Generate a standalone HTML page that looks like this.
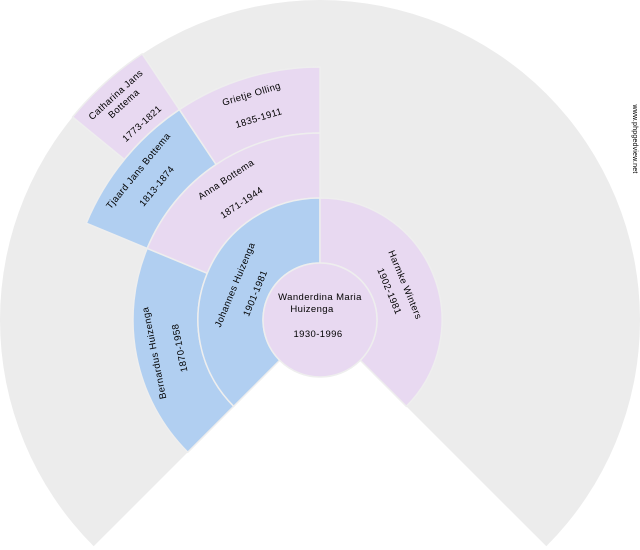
<!DOCTYPE html>
<html><head><meta charset="utf-8"><style>
html,body{margin:0;padding:0;background:#fff;}
svg{display:block;}
text{font-family:"Liberation Sans","DejaVu Sans",sans-serif;font-size:9.5px;fill:#000;text-anchor:middle;letter-spacing:0.4px;}
</style></head><body>
<svg width="640" height="550" viewBox="0 0 640 550" xmlns="http://www.w3.org/2000/svg">
<path d="M320,320 L93.7,546.3 A320,320 0 1 1 546.3,546.3 Z" fill="#ececec"/>
<g stroke="#eeeeee" stroke-width="1.5">
<path d="M72.6,117 A320,320 0 0 1 142.2,53.9 L179.4,109.6 A253,253 0 0 0 124.4,159.5 Z" fill="#e8d9f1"/>
<path d="M86.3,223.2 A253,253 0 0 1 179.4,109.6 L216.1,164.5 A187,187 0 0 0 147.2,248.4 Z" fill="#b1cff1"/>
<path d="M179.4,109.6 A253,253 0 0 1 320,67 L320,133 A187,187 0 0 0 216.1,164.5 Z" fill="#e8d9f1"/>
<path d="M187.8,452.2 A187,187 0 0 1 147.2,248.4 L207.3,273.3 A122,122 0 0 0 233.7,406.3 Z" fill="#b1cff1"/>
<path d="M147.2,248.4 A187,187 0 0 1 320,133 L320,198 A122,122 0 0 0 207.3,273.3 Z" fill="#e8d9f1"/>
<path d="M233.7,406.3 A122,122 0 0 1 320,198 L320,263 A57,57 0 0 0 279.7,360.3 Z" fill="#b1cff1"/>
<path d="M320,198 A122,122 0 0 1 406.3,406.3 L360.3,360.3 A57,57 0 0 0 320,263 Z" fill="#e8d9f1"/>
<circle cx="320" cy="320" r="57" fill="#e8d9f1"/>
</g>
<text x="320" y="300">Wanderdina Maria</text>
<text x="312" y="312">Huizenga</text>
<text x="318" y="337">1930-1996</text>
<g transform="translate(320,320) rotate(-67.5)"><text x="0" y="-89">Johannes Huizenga</text><text x="0" y="-67">1901-1981</text></g>
<g transform="translate(320,320) rotate(67.5)"><text x="0" y="-89">Harmke Winters</text><text x="0" y="-72">1902-1981</text></g>
<g transform="translate(320,320) rotate(-101.25)"><text x="0" y="-166">Bernardus Huizenga</text><text x="0" y="-140">1870-1958</text></g>
<g transform="translate(320,320) rotate(-33.75)"><text x="0" y="-166">Anna Bottema</text><text x="0" y="-138">1871-1944</text></g>
<g transform="translate(320,320) rotate(-50.625)"><text x="0" y="-232">Tjaard Jans Bottema</text><text x="0" y="-208">1813-1874</text></g>
<g transform="translate(320,320) rotate(-16.875)"><text x="0" y="-233">Grietje Olling</text><text x="0" y="-208">1835-1911</text></g>
<g transform="translate(320,320) rotate(-42.19)"><text x="0" y="-301">Catharina Jans</text><text x="0" y="-289">Bottema</text><text x="0" y="-262">1773-1821</text></g>
<text transform="translate(633,139) rotate(90)" style="font-size:7px;letter-spacing:0.2px">www.phpgedview.net</text>
</svg>
</body></html>
